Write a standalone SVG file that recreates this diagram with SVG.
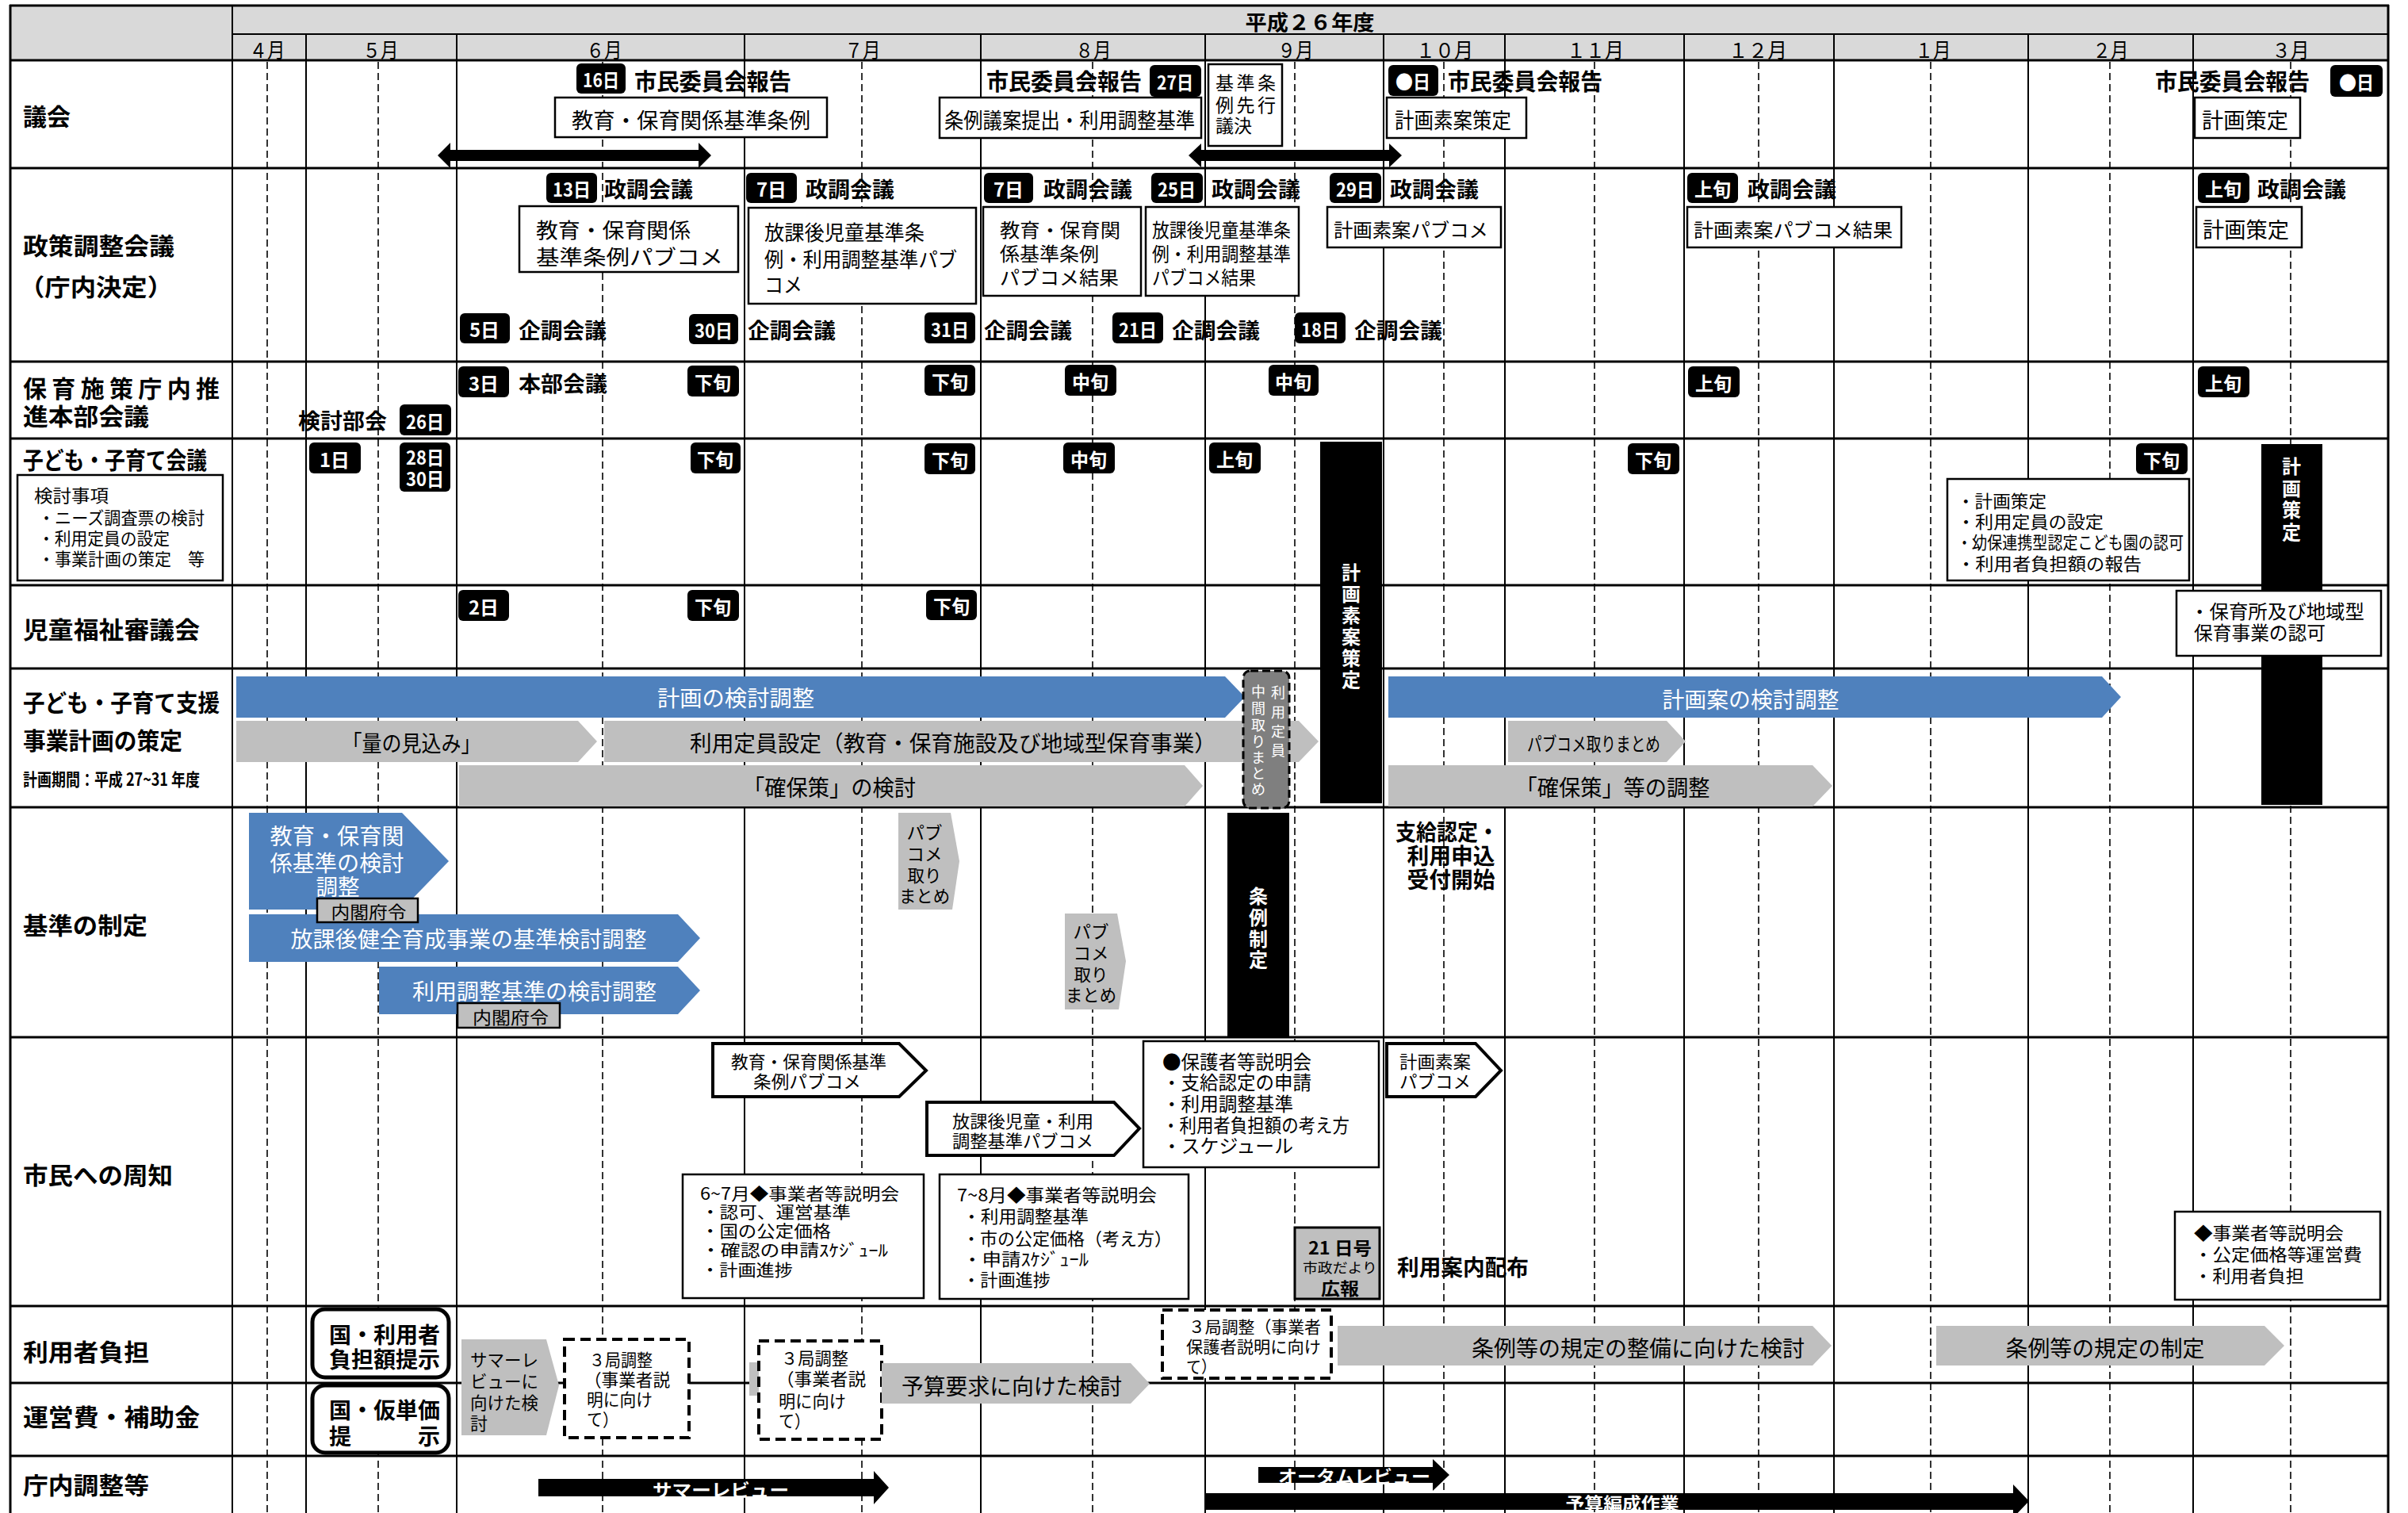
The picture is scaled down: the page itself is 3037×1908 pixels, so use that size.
<svg xmlns="http://www.w3.org/2000/svg" width="3037" height="1908" viewBox="0 0 3037 1908">
<style>
text { font-family: "Noto Sans CJK JP", "Noto Sans", sans-serif; dominant-baseline: central; fill: #000; }
.b { font-weight: 700; }
.w { fill: #fff; }
.c { text-anchor: middle; }
.lbl { font-size: 30px; font-weight: 700; }
.bt { font-size: 24px; font-weight: 700; fill: #fff; text-anchor: middle; }
.bd { fill: #000; }
.box { fill: #fff; stroke: #000; stroke-width: 2.5; }
.gl { stroke: #000; stroke-width: 2; }
.hl { stroke: #000; stroke-width: 3; }
.dl { stroke: #000; stroke-width: 1.6; stroke-dasharray: 9 5; }
.blue { fill: #4f81bd; }
.gray { fill: #bfbfbf; }
.pent { fill: #fff; stroke: #000; stroke-width: 4; }
.dash { fill: #fff; stroke: #000; stroke-width: 4; stroke-dasharray: 13 7; }
.rnd { fill: #fff; stroke: #000; stroke-width: 5; }
.m27 { font-size: 27px; }
.m26 { font-size: 26px; }
.m24 { font-size: 24px; }
.m22 { font-size: 22px; }
.m21 { font-size: 21px; }
.vt { font-size: 24px; font-weight: 700; fill: #fff; text-anchor: middle; }
</style>
<rect x="0" y="0" width="3037" height="1908" fill="#fff"/>

<g id="grid">
  <rect x="13" y="7" width="2999" height="69" fill="#d9d9d9"/>
  <g class="dl">
    <line x1="337" y1="78" x2="337" y2="1908"/>
    <line x1="477" y1="78" x2="477" y2="1908"/>
    <line x1="760" y1="78" x2="760" y2="1908"/>
    <line x1="1087" y1="78" x2="1087" y2="1908"/>
    <line x1="1378" y1="78" x2="1378" y2="1908"/>
    <line x1="1633" y1="78" x2="1633" y2="1908"/>
    <line x1="1821" y1="78" x2="1821" y2="1908"/>
    <line x1="2011" y1="78" x2="2011" y2="1908"/>
    <line x1="2218" y1="78" x2="2218" y2="1908"/>
    <line x1="2435" y1="78" x2="2435" y2="1908"/>
    <line x1="2661" y1="78" x2="2661" y2="1908"/>
    <line x1="2889" y1="78" x2="2889" y2="1908"/>
  </g>
  <g class="gl">
    <line x1="293" y1="7" x2="293" y2="1908"/>
    <line x1="386" y1="43" x2="386" y2="1908"/>
    <line x1="576" y1="43" x2="576" y2="1908"/>
    <line x1="939" y1="43" x2="939" y2="1908"/>
    <line x1="1237" y1="43" x2="1237" y2="1908"/>
    <line x1="1520" y1="43" x2="1520" y2="1908"/>
    <line x1="1745" y1="43" x2="1745" y2="1908"/>
    <line x1="1898" y1="43" x2="1898" y2="1908"/>
    <line x1="2124" y1="43" x2="2124" y2="1908"/>
    <line x1="2313" y1="43" x2="2313" y2="1908"/>
    <line x1="2558" y1="43" x2="2558" y2="1908"/>
    <line x1="2766" y1="43" x2="2766" y2="1908"/>
    <line x1="293" y1="43" x2="3012" y2="43"/>
  </g>
  <g class="hl">
    <line x1="13" y1="6" x2="13" y2="1908"/>
    <line x1="3012" y1="6" x2="3012" y2="1908"/>
    <line x1="12" y1="7" x2="3013" y2="7"/>
    <line x1="12" y1="76" x2="3013" y2="76"/>
    <line x1="12" y1="212" x2="3013" y2="212"/>
    <line x1="12" y1="456" x2="3013" y2="456"/>
    <line x1="12" y1="553" x2="3013" y2="553"/>
    <line x1="12" y1="738" x2="3013" y2="738"/>
    <line x1="12" y1="843" x2="3013" y2="843"/>
    <line x1="12" y1="1018" x2="3013" y2="1018"/>
    <line x1="12" y1="1308" x2="3013" y2="1308"/>
    <line x1="12" y1="1647" x2="3013" y2="1647"/>
    <line x1="12" y1="1744" x2="3013" y2="1744"/>
    <line x1="12" y1="1836" x2="3013" y2="1836"/>
  </g>
  <text x="1652" y="26" class="b c" font-size="26" textLength="163" lengthAdjust="spacingAndGlyphs">平成２６年度</text>
  <g class="m26">
    <text x="337" y="61" class="c" textLength="45" lengthAdjust="spacingAndGlyphs">４月</text>
    <text x="480" y="61" class="c" textLength="45" lengthAdjust="spacingAndGlyphs">５月</text>
    <text x="762" y="61" class="c" textLength="45" lengthAdjust="spacingAndGlyphs">６月</text>
    <text x="1088" y="61" class="c" textLength="45" lengthAdjust="spacingAndGlyphs">７月</text>
    <text x="1379" y="61" class="c" textLength="45" lengthAdjust="spacingAndGlyphs">８月</text>
    <text x="1634" y="61" class="c" textLength="45" lengthAdjust="spacingAndGlyphs">９月</text>
    <text x="1822" y="61" class="c" textLength="72" lengthAdjust="spacingAndGlyphs">１０月</text>
    <text x="2012" y="61" class="c" textLength="72" lengthAdjust="spacingAndGlyphs">１１月</text>
    <text x="2217" y="61" class="c" textLength="74" lengthAdjust="spacingAndGlyphs">１２月</text>
    <text x="2438" y="61" class="c" textLength="45" lengthAdjust="spacingAndGlyphs">１月</text>
    <text x="2662" y="61" class="c" textLength="45" lengthAdjust="spacingAndGlyphs">２月</text>
    <text x="2889" y="61" class="c" textLength="47" lengthAdjust="spacingAndGlyphs">３月</text>
  </g>
</g>

<g id="row-labels">
  <text x="29" y="145" class="lbl" textLength="60" lengthAdjust="spacingAndGlyphs">議会</text>
  <text x="29" y="308" class="lbl" textLength="191" lengthAdjust="spacingAndGlyphs">政策調整会議</text>
  <text x="24" y="360" class="lbl" textLength="194" lengthAdjust="spacingAndGlyphs">（庁内決定）</text>
  <text x="29" y="488" class="lbl" textLength="248" lengthAdjust="spacing">保育施策庁内推</text>
  <text x="29" y="523" class="lbl" textLength="159" lengthAdjust="spacingAndGlyphs">進本部会議</text>
  <text x="29" y="578" class="lbl" textLength="232" lengthAdjust="spacingAndGlyphs">子ども・子育て会議</text>
  <text x="29" y="792" class="lbl" textLength="223" lengthAdjust="spacingAndGlyphs">児童福祉審議会</text>
  <text x="29" y="884" class="lbl" textLength="248" lengthAdjust="spacingAndGlyphs">子ども・子育て支援</text>
  <text x="29" y="932" class="lbl" textLength="201" lengthAdjust="spacingAndGlyphs">事業計画の策定</text>
  <text x="29" y="981" class="b" font-size="22" textLength="223" lengthAdjust="spacingAndGlyphs">計画期間：平成 27~31 年度</text>
  <text x="29" y="1165" class="lbl" textLength="157" lengthAdjust="spacingAndGlyphs">基準の制定</text>
  <text x="29" y="1480" class="lbl" textLength="189" lengthAdjust="spacingAndGlyphs">市民への周知</text>
  <text x="29" y="1703" class="lbl" textLength="159" lengthAdjust="spacingAndGlyphs">利用者負担</text>
  <text x="29" y="1785" class="lbl" textLength="223" lengthAdjust="spacingAndGlyphs">運営費・補助金</text>
  <text x="29" y="1871" class="lbl" textLength="159" lengthAdjust="spacingAndGlyphs">庁内調整等</text>
</g>

<g id="connectors">
  <path d="M552,196 L568,180 V189 H881 V180 L897,196 L881,212 V203 H568 V212 Z" fill="#000"/>
  <path d="M1499,196 L1515,181 V189 H1752 V181 L1768,196 L1752,211 V203 H1515 V211 Z" fill="#000"/>
</g>

<g id="gikai">
  <g id="b-16"><rect x="727" y="80" width="62" height="38" rx="6" class="bd"/><text x="758" y="99" class="bt" textLength="46" lengthAdjust="spacingAndGlyphs">16日</text></g>
  <text x="800" y="101" class="b" font-size="29" textLength="198" lengthAdjust="spacingAndGlyphs">市民委員会報告</text>
  <g id="n-jorei1"><rect x="700" y="123" width="343" height="50" class="box"/><text x="721" y="150" class="m27" textLength="301" lengthAdjust="spacingAndGlyphs">教育・保育関係基準条例</text></g>
  <text x="1244" y="101" class="b" font-size="29" textLength="196" lengthAdjust="spacingAndGlyphs">市民委員会報告</text>
  <g id="b-27"><rect x="1450" y="82" width="65" height="40" rx="6" class="bd"/><text x="1482" y="102" class="bt" textLength="46" lengthAdjust="spacingAndGlyphs">27日</text></g>
  <g id="n-jorei2"><rect x="1185" y="123" width="330" height="51" class="box"/><text x="1191" y="150" class="m27" textLength="316" lengthAdjust="spacingAndGlyphs">条例議案提出・利用調整基準</text></g>
  <g id="n-senko"><rect x="1524" y="81" width="93" height="103" class="box"/>
    <text x="1533" y="103" font-size="23" textLength="76" lengthAdjust="spacing">基準条</text>
    <text x="1533" y="131" font-size="23" textLength="76" lengthAdjust="spacing">例先行</text>
    <text x="1533" y="157" font-size="23" textLength="46" lengthAdjust="spacingAndGlyphs">議決</text></g>
  <g id="b-oct"><rect x="1751" y="82" width="63" height="39" rx="6" class="bd"/><text x="1782" y="101" class="bt" textLength="44" lengthAdjust="spacingAndGlyphs">●日</text></g>
  <text x="1826" y="101" class="b" font-size="29" textLength="195" lengthAdjust="spacingAndGlyphs">市民委員会報告</text>
  <g id="n-soan"><rect x="1749" y="123" width="176" height="51" class="box"/><text x="1759" y="150" class="m27" textLength="147" lengthAdjust="spacingAndGlyphs">計画素案策定</text></g>
  <text x="2718" y="101" class="b" font-size="29" textLength="195" lengthAdjust="spacingAndGlyphs">市民委員会報告</text>
  <g id="b-mar"><rect x="2939" y="82" width="66" height="40" rx="6" class="bd"/><text x="2972" y="102" class="bt" textLength="44" lengthAdjust="spacingAndGlyphs">●日</text></g>
  <g id="n-keikaku1"><rect x="2768" y="123" width="133" height="51" class="box"/><text x="2777" y="150" class="m27" textLength="109" lengthAdjust="spacingAndGlyphs">計画策定</text></g>
</g>

<g id="seisaku">
  <g><rect x="689" y="218" width="64" height="38" rx="6" class="bd"/><text x="721" y="237" class="bt" textLength="48" lengthAdjust="spacingAndGlyphs">13日</text></g>
  <text x="762" y="237" class="b m27" textLength="112" lengthAdjust="spacingAndGlyphs">政調会議</text>
  <g><rect x="941" y="218" width="64" height="38" rx="6" class="bd"/><text x="973" y="237" class="bt" textLength="38" lengthAdjust="spacingAndGlyphs">7日</text></g>
  <text x="1016" y="237" class="b m27" textLength="112" lengthAdjust="spacingAndGlyphs">政調会議</text>
  <g><rect x="1241" y="218" width="62" height="38" rx="6" class="bd"/><text x="1272" y="237" class="bt" textLength="38" lengthAdjust="spacingAndGlyphs">7日</text></g>
  <text x="1316" y="237" class="b m27" textLength="112" lengthAdjust="spacingAndGlyphs">政調会議</text>
  <g><rect x="1452" y="218" width="65" height="38" rx="6" class="bd"/><text x="1484" y="237" class="bt" textLength="48" lengthAdjust="spacingAndGlyphs">25日</text></g>
  <text x="1528" y="237" class="b m27" textLength="112" lengthAdjust="spacingAndGlyphs">政調会議</text>
  <g><rect x="1677" y="218" width="65" height="38" rx="6" class="bd"/><text x="1709" y="237" class="bt" textLength="48" lengthAdjust="spacingAndGlyphs">29日</text></g>
  <text x="1753" y="237" class="b m27" textLength="112" lengthAdjust="spacingAndGlyphs">政調会議</text>
  <g><rect x="2128" y="218" width="64" height="38" rx="6" class="bd"/><text x="2160" y="237" class="bt" textLength="46" lengthAdjust="spacingAndGlyphs">上旬</text></g>
  <text x="2204" y="237" class="b m27" textLength="112" lengthAdjust="spacingAndGlyphs">政調会議</text>
  <g><rect x="2772" y="218" width="65" height="38" rx="6" class="bd"/><text x="2804" y="237" class="bt" textLength="46" lengthAdjust="spacingAndGlyphs">上旬</text></g>
  <text x="2847" y="237" class="b m27" textLength="112" lengthAdjust="spacingAndGlyphs">政調会議</text>

  <g id="n-s1"><rect x="655" y="260" width="276" height="83" class="box"/>
    <text x="676" y="288" class="m26" textLength="195" lengthAdjust="spacingAndGlyphs">教育・保育関係</text>
    <text x="676" y="322" class="m26" textLength="236" lengthAdjust="spacingAndGlyphs">基準条例パブコメ</text></g>
  <g id="n-s2"><rect x="944" y="262" width="287" height="121" class="box"/>
    <text x="964" y="291" class="m26" textLength="202" lengthAdjust="spacingAndGlyphs">放課後児童基準条</text>
    <text x="964" y="325" class="m26" textLength="243" lengthAdjust="spacingAndGlyphs">例・利用調整基準パブ</text>
    <text x="964" y="357" class="m26" textLength="48" lengthAdjust="spacingAndGlyphs">コメ</text></g>
  <g id="n-s3"><rect x="1240" y="261" width="199" height="112" class="box"/>
    <text x="1261" y="288" class="m24" textLength="152" lengthAdjust="spacingAndGlyphs">教育・保育関</text>
    <text x="1261" y="318" class="m24" textLength="125" lengthAdjust="spacingAndGlyphs">係基準条例</text>
    <text x="1261" y="348" class="m24" textLength="150" lengthAdjust="spacingAndGlyphs">パブコメ結果</text></g>
  <g id="n-s4"><rect x="1445" y="261" width="193" height="112" class="box"/>
    <text x="1453" y="288" class="m24" textLength="175" lengthAdjust="spacingAndGlyphs">放課後児童基準条</text>
    <text x="1453" y="318" class="m24" textLength="175" lengthAdjust="spacingAndGlyphs">例・利用調整基準</text>
    <text x="1453" y="348" class="m24" textLength="131" lengthAdjust="spacingAndGlyphs">パブコメ結果</text></g>
  <g id="n-s5"><rect x="1674" y="261" width="219" height="51" class="box"/>
    <text x="1682" y="288" class="m24" textLength="195" lengthAdjust="spacingAndGlyphs">計画素案パブコメ</text></g>
  <g id="n-s6"><rect x="2128" y="261" width="270" height="51" class="box"/>
    <text x="2136" y="288" class="m24" textLength="251" lengthAdjust="spacingAndGlyphs">計画素案パブコメ結果</text></g>
  <g id="n-s7"><rect x="2770" y="261" width="133" height="51" class="box"/>
    <text x="2778" y="288" class="m27" textLength="109" lengthAdjust="spacingAndGlyphs">計画策定</text></g>

  <g><rect x="580" y="395" width="63" height="38" rx="6" class="bd"/><text x="611" y="414" class="bt" textLength="38" lengthAdjust="spacingAndGlyphs">5日</text></g>
  <text x="654" y="415" class="b m27" textLength="111" lengthAdjust="spacingAndGlyphs">企調会議</text>
  <g><rect x="869" y="396" width="62" height="38" rx="6" class="bd"/><text x="900" y="415" class="bt" textLength="48" lengthAdjust="spacingAndGlyphs">30日</text></g>
  <text x="943" y="415" class="b m27" textLength="111" lengthAdjust="spacingAndGlyphs">企調会議</text>
  <g><rect x="1166" y="394" width="64" height="39" rx="6" class="bd"/><text x="1198" y="414" class="bt" textLength="48" lengthAdjust="spacingAndGlyphs">31日</text></g>
  <text x="1241" y="415" class="b m27" textLength="111" lengthAdjust="spacingAndGlyphs">企調会議</text>
  <g><rect x="1403" y="394" width="64" height="39" rx="6" class="bd"/><text x="1435" y="414" class="bt" textLength="48" lengthAdjust="spacingAndGlyphs">21日</text></g>
  <text x="1478" y="415" class="b m27" textLength="111" lengthAdjust="spacingAndGlyphs">企調会議</text>
  <g><rect x="1633" y="394" width="64" height="39" rx="6" class="bd"/><text x="1665" y="414" class="bt" textLength="48" lengthAdjust="spacingAndGlyphs">18日</text></g>
  <text x="1708" y="415" class="b m27" textLength="111" lengthAdjust="spacingAndGlyphs">企調会議</text>
</g>

<g id="honbu">
  <g><rect x="578" y="462" width="64" height="39" rx="6" class="bd"/><text x="610" y="482" class="bt" textLength="38" lengthAdjust="spacingAndGlyphs">3日</text></g>
  <text x="654" y="482" class="b m27" textLength="112" lengthAdjust="spacingAndGlyphs">本部会議</text>
  <text x="376" y="529" class="b m27" textLength="112" lengthAdjust="spacingAndGlyphs">検討部会</text>
  <g><rect x="504" y="510" width="65" height="39" rx="6" class="bd"/><text x="536" y="530" class="bt" textLength="48" lengthAdjust="spacingAndGlyphs">26日</text></g>
  <g><rect x="867" y="461" width="65" height="39" rx="6" class="bd"/><text x="899" y="481" class="bt" textLength="46" lengthAdjust="spacingAndGlyphs">下旬</text></g>
  <g><rect x="1166" y="460" width="64" height="39" rx="6" class="bd"/><text x="1198" y="480" class="bt" textLength="46" lengthAdjust="spacingAndGlyphs">下旬</text></g>
  <g><rect x="1343" y="460" width="65" height="39" rx="6" class="bd"/><text x="1375" y="480" class="bt" textLength="46" lengthAdjust="spacingAndGlyphs">中旬</text></g>
  <g><rect x="1600" y="460" width="63" height="39" rx="6" class="bd"/><text x="1631" y="480" class="bt" textLength="46" lengthAdjust="spacingAndGlyphs">中旬</text></g>
  <g><rect x="2129" y="462" width="65" height="39" rx="6" class="bd"/><text x="2161" y="482" class="bt" textLength="46" lengthAdjust="spacingAndGlyphs">上旬</text></g>
  <g><rect x="2772" y="462" width="65" height="39" rx="6" class="bd"/><text x="2804" y="482" class="bt" textLength="46" lengthAdjust="spacingAndGlyphs">上旬</text></g>
</g>

<g id="kodomo-kaigi">
  <g id="n-kento"><rect x="22" y="599" width="259" height="133" class="box" stroke-width="3"/>
    <text x="43" y="623" class="m22" textLength="94" lengthAdjust="spacingAndGlyphs">検討事項</text>
    <text x="48" y="651" class="m22" textLength="210" lengthAdjust="spacingAndGlyphs">・ニーズ調査票の検討</text>
    <text x="48" y="677" class="m22" textLength="166" lengthAdjust="spacingAndGlyphs">・利用定員の設定</text>
    <text x="48" y="703" class="m22" textLength="210" lengthAdjust="spacingAndGlyphs">・事業計画の策定　等</text></g>
  <g><rect x="390" y="558" width="65" height="39" rx="6" class="bd"/><text x="422" y="578" class="bt" textLength="38" lengthAdjust="spacingAndGlyphs">1日</text></g>
  <g><rect x="504" y="558" width="64" height="62" rx="6" class="bd"/><text x="536" y="575" class="bt" textLength="48" lengthAdjust="spacingAndGlyphs">28日</text><text x="536" y="602" class="bt" textLength="48" lengthAdjust="spacingAndGlyphs">30日</text></g>
  <g><rect x="871" y="558" width="63" height="39" rx="6" class="bd"/><text x="902" y="578" class="bt" textLength="46" lengthAdjust="spacingAndGlyphs">下旬</text></g>
  <g><rect x="1166" y="559" width="64" height="39" rx="6" class="bd"/><text x="1198" y="579" class="bt" textLength="46" lengthAdjust="spacingAndGlyphs">下旬</text></g>
  <g><rect x="1341" y="558" width="65" height="39" rx="6" class="bd"/><text x="1373" y="578" class="bt" textLength="46" lengthAdjust="spacingAndGlyphs">中旬</text></g>
  <g><rect x="1525" y="558" width="65" height="39" rx="6" class="bd"/><text x="1557" y="578" class="bt" textLength="46" lengthAdjust="spacingAndGlyphs">上旬</text></g>
  <g><rect x="2053" y="559" width="65" height="39" rx="6" class="bd"/><text x="2085" y="579" class="bt" textLength="46" lengthAdjust="spacingAndGlyphs">下旬</text></g>
  <g><rect x="2694" y="559" width="65" height="39" rx="6" class="bd"/><text x="2726" y="579" class="bt" textLength="46" lengthAdjust="spacingAndGlyphs">下旬</text></g>
  <g id="n-kaigi-r"><rect x="2456" y="604" width="305" height="128" class="box" stroke-width="3"/>
    <text x="2468" y="630" class="m22" textLength="113" lengthAdjust="spacingAndGlyphs">・計画策定</text>
    <text x="2468" y="656" class="m22" textLength="185" lengthAdjust="spacingAndGlyphs">・利用定員の設定</text>
    <text x="2468" y="682" class="m22" textLength="286" lengthAdjust="spacingAndGlyphs">・幼保連携型認定こども園の認可</text>
    <text x="2468" y="709" class="m22" textLength="233" lengthAdjust="spacingAndGlyphs">・利用者負担額の報告</text></g>
</g>

<g id="jido">
  <g><rect x="578" y="744" width="64" height="39" rx="6" class="bd"/><text x="610" y="764" class="bt" textLength="38" lengthAdjust="spacingAndGlyphs">2日</text></g>
  <g><rect x="867" y="744" width="65" height="39" rx="6" class="bd"/><text x="899" y="764" class="bt" textLength="46" lengthAdjust="spacingAndGlyphs">下旬</text></g>
  <g><rect x="1168" y="744" width="64" height="38" rx="6" class="bd"/><text x="1200" y="763" class="bt" textLength="46" lengthAdjust="spacingAndGlyphs">下旬</text></g>
</g>

<g id="bars">
  <g id="n-soan-bar"><rect x="1665" y="557" width="78" height="456" fill="#000"/>
    <text class="vt"><tspan x="1704" y="720">計</tspan><tspan x="1704" y="747">画</tspan><tspan x="1704" y="774">素</tspan><tspan x="1704" y="801">案</tspan><tspan x="1704" y="828">策</tspan><tspan x="1704" y="855">定</tspan></text></g>
  <g id="n-sakutei-bar"><rect x="2852" y="560" width="77" height="455" fill="#000"/>
    <text class="vt"><tspan x="2890" y="586">計</tspan><tspan x="2890" y="614">画</tspan><tspan x="2890" y="641">策</tspan><tspan x="2890" y="669">定</tspan></text></g>
  <g id="n-hoikusho"><rect x="2745" y="745" width="258" height="82" class="box" stroke-width="3"/>
    <text x="2762" y="769" class="m24" textLength="220" lengthAdjust="spacingAndGlyphs">・保育所及び地域型</text>
    <text x="2767" y="796" class="m24" textLength="166" lengthAdjust="spacingAndGlyphs">保育事業の認可</text></g>
</g>

<g id="jigyo-keikaku">
  <g id="n-a1"><path d="M298,853 H1545 L1570,879 L1545,905 H298 Z" class="blue"/>
    <text x="928" y="879" class="w c" font-size="28" textLength="198" lengthAdjust="spacingAndGlyphs">計画の検討調整</text></g>
  <g id="n-a2"><path d="M298,909 H729 L753,935 L729,961 H298 Z" class="gray"/>
    <text x="519" y="936" class="c" font-size="28" textLength="175" lengthAdjust="spacingAndGlyphs">「量の見込み」</text></g>
  <g id="n-a3"><path d="M762,909 H1638 L1663,935 L1638,961 H762 Z" class="gray"/>
    <text x="1202" y="936" class="c" font-size="28" textLength="664" lengthAdjust="spacingAndGlyphs">利用定員設定（教育・保育施設及び地域型保育事業）</text></g>
  <g id="n-a4"><path d="M579,965 H1494 L1517,991 L1494,1017 H579 Z" class="gray"/>
    <text x="1046" y="992" class="c" font-size="28" textLength="218" lengthAdjust="spacingAndGlyphs">「確保策」の検討</text></g>
  <g id="n-a5"><path d="M1751,853 H2651 L2675,879 L2651,905 H1751 Z" class="blue"/>
    <text x="2208" y="881" class="w c" font-size="28" textLength="223" lengthAdjust="spacingAndGlyphs">計画案の検討調整</text></g>
  <g id="n-a6"><path d="M1902,909 H2102 L2126,935 L2102,961 H1902 Z" class="gray"/>
    <text x="2010" y="936" class="c" font-size="24" textLength="168" lengthAdjust="spacingAndGlyphs">パブコメ取りまとめ</text></g>
  <g id="n-a7"><path d="M1751,965 H2286 L2311,991 L2286,1017 H1751 Z" class="gray"/>
    <text x="2034" y="992" class="c" font-size="28" textLength="245" lengthAdjust="spacingAndGlyphs">「確保策」等の調整</text></g>
  <g id="n-chukan"><rect x="1568" y="846" width="58" height="173" rx="9" fill="#7f7f7f" stroke="#000" stroke-width="3" stroke-dasharray="10 5"/>
    <text class="w c" font-size="18"><tspan x="1612" y="872">利</tspan><tspan x="1612" y="897">用</tspan><tspan x="1612" y="921">定</tspan><tspan x="1612" y="945">員</tspan></text>
    <text class="w c" font-size="18"><tspan x="1587" y="871">中</tspan><tspan x="1587" y="892">間</tspan><tspan x="1587" y="913">取</tspan><tspan x="1587" y="934">り</tspan><tspan x="1587" y="954">ま</tspan><tspan x="1587" y="974">と</tspan><tspan x="1587" y="994">め</tspan></text></g>
</g>

<g id="kijun">
  <g id="n-k1"><path d="M314,1025 H507 L566,1086 L507,1147 H314 Z" class="blue"/>
    <text x="425" y="1053" class="w c" font-size="28" textLength="169" lengthAdjust="spacingAndGlyphs">教育・保育関</text>
    <text x="425" y="1087" class="w c" font-size="28" textLength="169" lengthAdjust="spacingAndGlyphs">係基準の検討</text>
    <text x="426" y="1117" class="w c" font-size="28" textLength="55" lengthAdjust="spacingAndGlyphs">調整</text></g>
  <g id="n-k2"><path d="M314,1153 H855 L883,1183 L855,1213 H314 Z" class="blue"/>
    <text x="591" y="1183" class="w c" font-size="28" textLength="449" lengthAdjust="spacingAndGlyphs">放課後健全育成事業の基準検討調整</text></g>
  <g id="n-kf1"><rect x="400" y="1133" width="127" height="30" class="gray" stroke="#000" stroke-width="2.5"/>
    <text x="465" y="1148" class="c m22" textLength="95" lengthAdjust="spacingAndGlyphs">内閣府令</text></g>
  <g id="n-k3"><path d="M478,1219 H855 L883,1249 L855,1279 H478 Z" class="blue"/>
    <text x="674" y="1249" class="w c" font-size="28" textLength="308" lengthAdjust="spacingAndGlyphs">利用調整基準の検討調整</text></g>
  <g id="n-kf2"><rect x="577" y="1265" width="129" height="31" class="gray" stroke="#000" stroke-width="2.5"/>
    <text x="644" y="1281" class="c m22" textLength="96" lengthAdjust="spacingAndGlyphs">内閣府令</text></g>
  <g id="n-p1"><path d="M1133,1025 H1199 L1210,1086 L1201,1147 H1133 Z" class="gray"/>
    <text x="1166" y="1048" class="c m22" textLength="45" lengthAdjust="spacingAndGlyphs">パブ</text>
    <text x="1166" y="1075" class="c m22" textLength="45" lengthAdjust="spacingAndGlyphs">コメ</text>
    <text x="1166" y="1102" class="c m22" textLength="43" lengthAdjust="spacingAndGlyphs">取り</text>
    <text x="1166" y="1128" class="c m22" textLength="64" lengthAdjust="spacingAndGlyphs">まとめ</text></g>
  <g id="n-p2"><path d="M1343,1152 H1409 L1420,1212 L1411,1273 H1343 Z" class="gray"/>
    <text x="1376" y="1173" class="c m22" textLength="45" lengthAdjust="spacingAndGlyphs">パブ</text>
    <text x="1376" y="1200" class="c m22" textLength="45" lengthAdjust="spacingAndGlyphs">コメ</text>
    <text x="1376" y="1227" class="c m22" textLength="43" lengthAdjust="spacingAndGlyphs">取り</text>
    <text x="1376" y="1253" class="c m22" textLength="64" lengthAdjust="spacingAndGlyphs">まとめ</text></g>
  <g id="n-jorei-bar"><rect x="1548" y="1025" width="78" height="282" fill="#000"/>
    <text class="vt"><tspan x="1587" y="1128">条</tspan><tspan x="1587" y="1155">例</tspan><tspan x="1587" y="1182">制</tspan><tspan x="1587" y="1208">定</tspan></text></g>
  <g id="n-kyufu">
    <text x="1825" y="1048" class="b c" font-size="28" textLength="130" lengthAdjust="spacingAndGlyphs">支給認定・</text>
    <text x="1830" y="1078" class="b c" font-size="28" textLength="111" lengthAdjust="spacingAndGlyphs">利用申込</text>
    <text x="1830" y="1108" class="b c" font-size="28" textLength="111" lengthAdjust="spacingAndGlyphs">受付開始</text></g>
</g>

<g id="shumin">
  <g id="n-m1"><path d="M899,1316 H1134 L1168,1350 L1134,1383 H899 Z" class="pent"/>
    <text x="1020" y="1337" class="c m22" textLength="196" lengthAdjust="spacingAndGlyphs">教育・保育関係基準</text>
    <text x="1018" y="1362" class="c m22" textLength="136" lengthAdjust="spacingAndGlyphs">条例パブコメ</text></g>
  <g id="n-m2"><path d="M1169,1390 H1405 L1437,1423 L1405,1457 H1169 Z" class="pent"/>
    <text x="1201" y="1412" class="m22" textLength="178" lengthAdjust="spacingAndGlyphs">放課後児童・利用</text>
    <text x="1201" y="1437" class="m22" textLength="178" lengthAdjust="spacingAndGlyphs">調整基準パブコメ</text></g>
  <g id="n-m3"><rect x="1442" y="1313" width="297" height="159" class="box" stroke-width="3"/>
    <text x="1466" y="1337" class="m24" textLength="188" lengthAdjust="spacingAndGlyphs">●保護者等説明会</text>
    <text x="1466" y="1363" class="m24" textLength="188" lengthAdjust="spacingAndGlyphs">・支給認定の申請</text>
    <text x="1466" y="1390" class="m24" textLength="165" lengthAdjust="spacingAndGlyphs">・利用調整基準</text>
    <text x="1466" y="1417" class="m24" textLength="236" lengthAdjust="spacingAndGlyphs">・利用者負担額の考え方</text>
    <text x="1466" y="1443" class="m24" textLength="165" lengthAdjust="spacingAndGlyphs">・スケジュール</text></g>
  <g id="n-m4"><path d="M1749,1316 H1861 L1893,1350 L1861,1383 H1749 Z" class="pent"/>
    <text x="1765" y="1337" class="m22" textLength="90" lengthAdjust="spacingAndGlyphs">計画素案</text>
    <text x="1765" y="1362" class="m22" textLength="90" lengthAdjust="spacingAndGlyphs">パブコメ</text></g>
  <g id="n-m5"><rect x="861" y="1481" width="304" height="156" class="box" stroke-width="3"/>
    <text x="883" y="1504" class="m21" textLength="251" lengthAdjust="spacingAndGlyphs">6~7月◆事業者等説明会</text>
    <text x="884" y="1527" class="m21" textLength="189" lengthAdjust="spacingAndGlyphs">・認可、運営基準</text>
    <text x="884" y="1551" class="m21" textLength="164" lengthAdjust="spacingAndGlyphs">・国の公定価格</text>
    <text x="884" y="1575" class="m21" textLength="236" lengthAdjust="spacingAndGlyphs">・確認の申請ｽｹｼﾞｭｰﾙ</text>
    <text x="884" y="1600" class="m21" textLength="116" lengthAdjust="spacingAndGlyphs">・計画進捗</text></g>
  <g id="n-m6"><rect x="1185" y="1481" width="314" height="157" class="box" stroke-width="3"/>
    <text x="1207" y="1505" class="m22" textLength="252" lengthAdjust="spacingAndGlyphs">7~8月◆事業者等説明会</text>
    <text x="1214" y="1532" class="m22" textLength="159" lengthAdjust="spacingAndGlyphs">・利用調整基準</text>
    <text x="1214" y="1560" class="m22" textLength="264" lengthAdjust="spacingAndGlyphs">・市の公定価格（考え方）</text>
    <text x="1214" y="1586" class="m22" textLength="159" lengthAdjust="spacingAndGlyphs">・申請ｽｹｼﾞｭｰﾙ</text>
    <text x="1214" y="1612" class="m22" textLength="111" lengthAdjust="spacingAndGlyphs">・計画進捗</text></g>
  <g id="n-m7"><rect x="1633" y="1548" width="107" height="90" class="gray" stroke="#000" stroke-width="3"/>
    <text x="1690" y="1572" class="b c m22" textLength="80" lengthAdjust="spacingAndGlyphs">21 日号</text>
    <text x="1690" y="1597" class="c" font-size="17" textLength="94" lengthAdjust="spacingAndGlyphs">市政だより</text>
    <text x="1690" y="1623" class="b c m22" textLength="48" lengthAdjust="spacingAndGlyphs">広報</text></g>
  <text x="1762" y="1597" class="b" font-size="28" textLength="166" lengthAdjust="spacingAndGlyphs">利用案内配布</text>
  <g id="n-m8"><rect x="2743" y="1528" width="259" height="111" class="box" stroke-width="3"/>
    <text x="2767" y="1553" class="m22" textLength="189" lengthAdjust="spacingAndGlyphs">◆事業者等説明会</text>
    <text x="2767" y="1580" class="m22" textLength="212" lengthAdjust="spacingAndGlyphs">・公定価格等運営費</text>
    <text x="2767" y="1607" class="m22" textLength="139" lengthAdjust="spacingAndGlyphs">・利用者負担</text></g>
</g>

<g id="futan">
  <g id="n-f1"><rect x="394" y="1651" width="172" height="86" rx="16" class="rnd"/>
    <text x="415" y="1682" class="b" font-size="28" textLength="140" lengthAdjust="spacingAndGlyphs">国・利用者</text>
    <text x="415" y="1713" class="b" font-size="28" textLength="140" lengthAdjust="spacingAndGlyphs">負担額提示</text></g>
  <g id="n-f2"><rect x="394" y="1747" width="172" height="85" rx="16" class="rnd"/>
    <text x="415" y="1777" class="b" font-size="28" textLength="140" lengthAdjust="spacingAndGlyphs">国・仮単価</text>
    <text x="415" y="1810" class="b" font-size="28" textLength="140" lengthAdjust="spacing">提　　示</text></g>
  <g id="n-f3"><path d="M582,1689 H689 L705,1747 L689,1810 H582 Z" class="gray"/>
    <text x="593" y="1713" class="m22" textLength="86" lengthAdjust="spacingAndGlyphs">サマーレ</text>
    <text x="593" y="1740" class="m22" textLength="86" lengthAdjust="spacingAndGlyphs">ビューに</text>
    <text x="593" y="1767" class="m22" textLength="86" lengthAdjust="spacingAndGlyphs">向けた検</text>
    <text x="593" y="1793" class="m22" textLength="22" lengthAdjust="spacingAndGlyphs">討</text></g>
  <g id="n-f4"><rect x="712" y="1689" width="157" height="124" class="dash"/>
    <text x="743" y="1713" class="m22" textLength="80" lengthAdjust="spacingAndGlyphs">３局調整</text>
    <text x="737" y="1738" class="m22" textLength="108" lengthAdjust="spacingAndGlyphs">（事業者説</text>
    <text x="740" y="1763" class="m22" textLength="83" lengthAdjust="spacingAndGlyphs">明に向け</text>
    <text x="740" y="1788" class="m22" textLength="40" lengthAdjust="spacingAndGlyphs">て）</text></g>
  <rect x="945" y="1718" width="12" height="42" class="gray"/>
  <g id="n-f5"><rect x="957" y="1691" width="155" height="124" class="dash"/>
    <text x="985" y="1711" class="m22" textLength="85" lengthAdjust="spacingAndGlyphs">３局調整</text>
    <text x="979" y="1737" class="m22" textLength="113" lengthAdjust="spacingAndGlyphs">（事業者説</text>
    <text x="982" y="1765" class="m22" textLength="85" lengthAdjust="spacingAndGlyphs">明に向け</text>
    <text x="982" y="1790" class="m22" textLength="40" lengthAdjust="spacingAndGlyphs">て）</text></g>
  <g id="n-f6"><path d="M1112,1719 H1426 L1450,1745 L1426,1770 H1112 Z" class="gray"/>
    <text x="1137" y="1747" font-size="28" textLength="278" lengthAdjust="spacingAndGlyphs">予算要求に向けた検討</text></g>
  <g id="n-f7"><rect x="1466" y="1652" width="213" height="86" class="dash"/>
    <text x="1499" y="1672" class="m21" textLength="167" lengthAdjust="spacingAndGlyphs">３局調整（事業者</text>
    <text x="1496" y="1697" class="m21" textLength="170" lengthAdjust="spacingAndGlyphs">保護者説明に向け</text>
    <text x="1496" y="1722" class="m21" textLength="38" lengthAdjust="spacingAndGlyphs">て）</text></g>
  <g id="n-f8"><path d="M1687,1672 H2286 L2310,1697 L2286,1722 H1687 Z" class="gray"/>
    <text x="2066" y="1699" class="c" font-size="28" textLength="420" lengthAdjust="spacingAndGlyphs">条例等の規定の整備に向けた検討</text></g>
  <g id="n-f9"><path d="M2442,1672 H2856 L2881,1697 L2856,1722 H2442 Z" class="gray"/>
    <text x="2655" y="1699" class="c" font-size="28" textLength="251" lengthAdjust="spacingAndGlyphs">条例等の規定の制定</text></g>
</g>

<g id="chonai">
  <g id="n-summer"><path d="M679,1865 H1102 V1855 L1121,1876 L1102,1897 V1887 H679 Z" fill="#000"/>
    <text x="909" y="1877" class="b w c m22" textLength="172" lengthAdjust="spacingAndGlyphs">サマーレビュー</text></g>
  <g id="n-autumn"><path d="M1587,1850 H1807 V1840 L1828,1860 L1807,1880 V1870 H1587 Z" fill="#000"/>
    <text x="1708" y="1860" class="b w c m22" textLength="192" lengthAdjust="spacingAndGlyphs">オータムレビュー</text></g>
  <g id="n-yosan"><path d="M1520,1883 H2539 V1872 L2559,1893 L2539,1914 V1904 H1520 Z" fill="#000"/>
    <text x="2046" y="1894" class="b w c m22" textLength="143" lengthAdjust="spacingAndGlyphs">予算編成作業</text></g>
</g>
</svg>
